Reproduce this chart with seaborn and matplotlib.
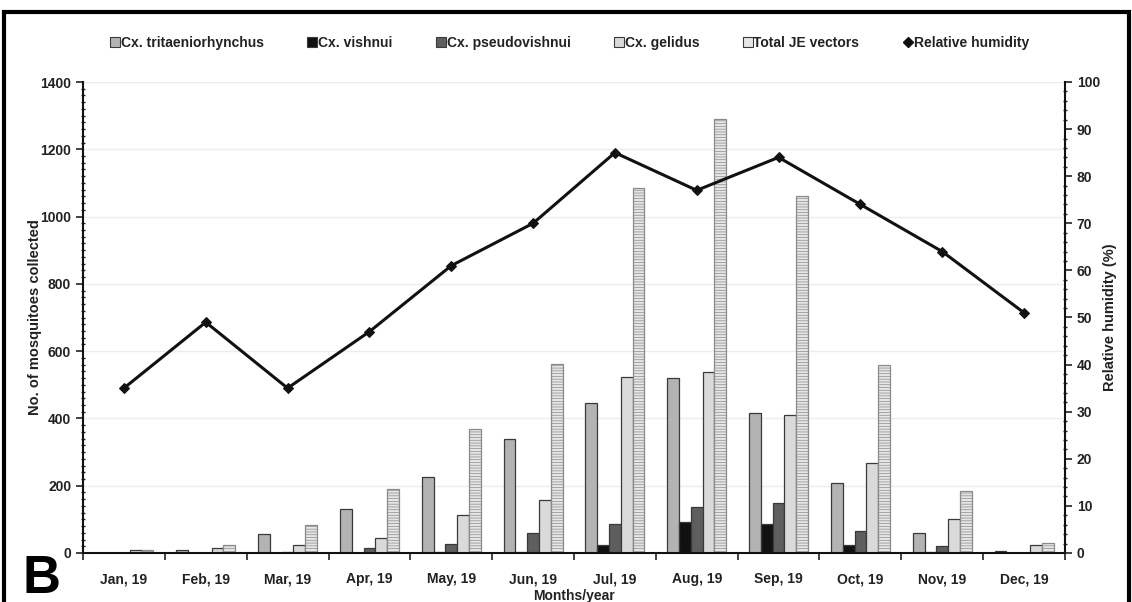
import numpy as np
import pandas as pd
import matplotlib
matplotlib.use("Agg")
import matplotlib.pyplot as plt
import seaborn as sns
from matplotlib.lines import Line2D
from matplotlib.patches import Rectangle
from matplotlib.ticker import MultipleLocator

# Monthly collections of JE vector mosquitoes, 2019
months = ["Jan, 19", "Feb, 19", "Mar, 19", "Apr, 19", "May, 19", "Jun, 19",
          "Jul, 19", "Aug, 19", "Sep, 19", "Oct, 19", "Nov, 19", "Dec, 19"]
tritaeniorhynchus = [0, 10, 55, 132, 225, 340, 446, 520, 417, 208, 59, 7]
vishnui = [0, 0, 0, 0, 3, 4, 23, 92, 87, 24, 3, 0]
pseudovishnui = [0, 0, 4, 14, 28, 60, 87, 136, 148, 66, 22, 0]
gelidus = [10, 14, 25, 45, 113, 157, 524, 538, 410, 267, 101, 24]
total_je = [10, 25, 84, 191, 370, 561, 1084, 1290, 1062, 560, 185, 31]
humidity = [35, 49, 35, 47, 61, 70, 85, 77, 84, 74, 64, 51]

series_names = ["Cx. tritaeniorhynchus", "Cx. vishnui", "Cx. pseudovishnui",
                "Cx. gelidus", "Total JE vectors"]
series_values = [tritaeniorhynchus, vishnui, pseudovishnui, gelidus, total_je]
fills = ["#b3b3b3", "#111111", "#5e5e5e", "#dadada", "#e6e6e6"]

df = pd.DataFrame({
    "month": np.tile(months, len(series_names)),
    "species": np.repeat(series_names, len(months)),
    "count": np.concatenate(series_values),
})

sns.set_theme(style="white")
plt.rcParams["font.family"] = ["Liberation Sans", "DejaVu Sans"]
plt.rcParams["hatch.linewidth"] = 0.5
text_color = "#222222"

fig = plt.figure(figsize=(11.32, 6.02), dpi=100)
ax = fig.add_axes([83 / 1132, 49 / 602, 982 / 1132, 471 / 602])

sns.barplot(data=df, x="month", y="count", hue="species", order=months,
            hue_order=series_names, palette=fills, width=0.72, gap=0,
            edgecolor="#3a3a3a", linewidth=0.9, legend=False, ax=ax, zorder=2)

# horizontal line texture on the total bars
for patch in ax.containers[4]:
    patch.set_hatch("------")
    patch.set_edgecolor("#8a8a8a")

ax.set_ylim(0, 1400)
ax.set_xlim(-0.5, 11.5)
ax.yaxis.set_major_locator(MultipleLocator(200))
ax.yaxis.set_minor_locator(MultipleLocator(20))
ax.grid(axis="y", which="major", color="#ececec", linewidth=1.0, zorder=0)
ax.set_axisbelow(True)
ax.set_xticks(np.arange(-0.5, 12.0, 1.0), minor=True)
ax.tick_params(axis="x", which="major", length=0, pad=14, labelsize=10, labelcolor=text_color)
ax.tick_params(axis="x", which="minor", length=5, width=1.2, direction="out", color="#222222", bottom=True)
ax.tick_params(axis="y", which="major", length=5, width=1.2, direction="out", labelsize=10,
               labelcolor=text_color, color="#222222", left=True)
ax.tick_params(axis="y", which="minor", length=3, width=1.0, direction="inout", color="#222222", left=True)
for lab in ax.get_xticklabels() + ax.get_yticklabels():
    lab.set_fontweight("bold")
ax.set_xlabel("Months/year", fontsize=10, fontweight="bold", color=text_color, labelpad=2)
ax.set_ylabel("No. of mosquitoes collected", fontsize=10.5, fontweight="bold", color=text_color, labelpad=-1)
for side in ["left", "bottom"]:
    ax.spines[side].set_color("#111111")
    ax.spines[side].set_linewidth(1.5)
ax.spines["top"].set_visible(False)
ax.spines["right"].set_visible(False)

# relative humidity on the secondary axis
ax2 = ax.twinx()
sns.lineplot(x=np.arange(len(months)), y=humidity, ax=ax2, color="#111111", linewidth=2.2,
             marker="D", markersize=5.5, markeredgecolor="#111111", zorder=5)
ax2.set_ylim(0, 100)
ax2.set_xlim(-0.5, 11.5)
ax2.yaxis.set_major_locator(MultipleLocator(10))
ax2.yaxis.set_minor_locator(MultipleLocator(2))
ax2.tick_params(axis="y", which="major", length=5, width=1.2, direction="out", labelsize=10,
                labelcolor=text_color, color="#222222", right=True)
ax2.tick_params(axis="y", which="minor", length=3, width=1.0, direction="inout", color="#222222", right=True)
for lab in ax2.get_yticklabels():
    lab.set_fontweight("bold")
ax2.set_ylabel("Relative humidity (%)", fontsize=10.5, fontweight="bold", color=text_color, labelpad=2)
ax2.spines["right"].set_color("#111111")
ax2.spines["right"].set_linewidth(1.5)
for side in ["top", "left", "bottom"]:
    ax2.spines[side].set_visible(False)

# legend across the top
handles = [Line2D([], [], linestyle="none", marker="s", markersize=7,
                  markerfacecolor=c, markeredgecolor="#3a3a3a", markeredgewidth=0.8)
           for c in fills]
handles.append(Line2D([], [], linestyle="none", marker="D", markersize=5,
                      markerfacecolor="#111111", markeredgecolor="#111111"))
labels = series_names + ["Relative humidity"]
leg = fig.legend(handles, labels, loc="center", bbox_to_anchor=(570 / 1132, 1 - 43 / 602),
                 ncol=6, frameon=False, handlelength=0.6, handletextpad=0.1,
                 columnspacing=3.2, prop={"size": 10, "weight": "bold"})
for t in leg.get_texts():
    t.set_color(text_color)

# panel frame and letter
fig.patches.append(Rectangle((4 / 1132, -0.2), 1125 / 1132, 1.2 - 12 / 602,
                             transform=fig.transFigure, fill=False,
                             edgecolor="black", linewidth=3, zorder=10))
fig.text(22 / 1132, 1 - 593 / 602, "B", fontsize=38, fontweight="bold",
         ha="left", va="baseline", color="black")

fig.savefig("out.png", dpi=100)
